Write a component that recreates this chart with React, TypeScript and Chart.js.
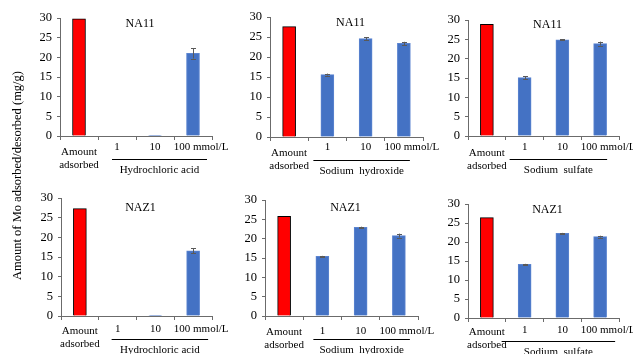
import React, { useEffect, useRef } from "react";
import { Chart, registerables } from "chart.js";

Chart.register(...registerables);

const categories: (string | string[])[] = [["Amount", "adsorbed"], "1", "10", "100 mmol/L"];
const yTicks = [0, 5, 10, 15, 20, 25, 30];
const panelTitles = ["NA11", "NA11", "NA11", "NAZ1", "NAZ1", "NAZ1"];
const groupLabels = [
  "Hydrochloric acid",
  "Sodium  hydroxide",
  "Sodium  sulfate",
  "Hydrochloric acid",
  "Sodium  hydroxide",
  "Sodium  sulfate",
];
const yAxisTitle = "Amount of Mo adsorbed/desorbed (mg/g)";

const na11HclValues = [29.8, 0, 0.15, 21.0];
const na11HclErrors = [0, 0, 0, 1.3];
const na11NaohValues = [27.6, 15.6, 24.6, 23.4];
const na11NaohErrors = [0, 0.25, 0.3, 0.4];
const na11Na2so4Values = [28.9, 15.1, 24.9, 23.9];
const na11Na2so4Errors = [0, 0.4, 0.15, 0.5];
const naz1HclValues = [27.3, 0, 0.15, 16.6];
const naz1HclErrors = [0, 0, 0, 0.6];
const naz1NaohValues = [25.8, 15.4, 22.9, 20.8];
const naz1NaohErrors = [0, 0.15, 0.2, 0.5];
const naz1Na2so4Values = [26.4, 14.1, 22.3, 21.4];
const naz1Na2so4Errors = [0, 0.15, 0.1, 0.25];

const panelValues = [na11HclValues, na11NaohValues, na11Na2so4Values, naz1HclValues, naz1NaohValues, naz1Na2so4Values];
const panelErrors = [na11HclErrors, na11NaohErrors, na11Na2so4Errors, naz1HclErrors, naz1NaohErrors, naz1Na2so4Errors];

// layout (pixel geometry of each panel)
const layouts = [
  { axisX: 60, yTop: 18, y0: 136, xRight: 212, numDy: 11, amtDy: 16, lineL: -5, lineR: 14, titleDy: 6 },
  { axisX: 270, yTop: 17, y0: 137, xRight: 423, numDy: 10, amtDy: 16, lineL: -14, lineR: 6, titleDy: 6 },
  { axisX: 468, yTop: 20, y0: 136, xRight: 619, numDy: 11, amtDy: 17, lineL: -15, lineR: 7, titleDy: 5 },
  { axisX: 61, yTop: 198, y0: 316, xRight: 212, numDy: 13, amtDy: 15, lineL: -6, lineR: 15, titleDy: 10 },
  { axisX: 265, yTop: 200, y0: 316, xRight: 418, numDy: 15, amtDy: 16, lineL: -9, lineR: 11, titleDy: 8 },
  { axisX: 468, yTop: 204, y0: 318, xRight: 619, numDy: 12, amtDy: 14, lineL: -23, lineR: 15, titleDy: 6 },
];

const PAD_LEFT = 45;
const PAD_RIGHT = 24;
const PAD_TOP = 15;
const PAD_BOTTOM = 45;
const FONT = '"Liberation Serif", "Times New Roman", serif';

const overlayPlugin = {
  id: "overlay",
  afterDraw(chart: any) {
    const o = chart.options.plugins.overlay;
    const { ctx, chartArea } = chart;
    const x = chart.scales.x;
    const y = chart.scales.y;
    const y0 = y.getPixelForValue(0);
    ctx.save();
    // error bars
    ctx.strokeStyle = "#595959";
    ctx.lineWidth = 1;
    o.values.forEach((v: number, i: number) => {
      const e = o.errors[i];
      if (!e) return;
      const cx = Math.round(x.getPixelForValue(i)) + 0.5;
      const yt = y.getPixelForValue(v + e);
      const yb = y.getPixelForValue(v - e);
      ctx.beginPath();
      ctx.moveTo(cx, yt);
      ctx.lineTo(cx, yb);
      ctx.moveTo(cx - 2.5, Math.round(yt) + 0.5);
      ctx.lineTo(cx + 2.5, Math.round(yt) + 0.5);
      ctx.moveTo(cx - 2.5, Math.round(yb) + 0.5);
      ctx.lineTo(cx + 2.5, Math.round(yb) + 0.5);
      ctx.stroke();
    });
    // category labels
    ctx.fillStyle = "#000";
    ctx.font = `11px ${FONT}`;
    ctx.textBaseline = "middle";
    ctx.textAlign = "center";
    categories.forEach((c, i) => {
      const cx = x.getPixelForValue(i);
      if (Array.isArray(c)) {
        c.forEach((line, k) => ctx.fillText(line, cx, y0 + o.amtDy + k * 13));
      } else if (i === categories.length - 1) {
        ctx.fillText(c, cx + 8, y0 + o.numDy);
      } else {
        ctx.fillText(c, cx, y0 + o.numDy);
      }
    });
    // group underline + label
    const l = x.getPixelForValue(1) + o.lineL;
    const r = x.getPixelForValue(3) + o.lineR;
    ctx.strokeStyle = "#000";
    ctx.beginPath();
    ctx.moveTo(l, Math.round(y0 + 23) + 0.5);
    ctx.lineTo(r, Math.round(y0 + 23) + 0.5);
    ctx.stroke();
    ctx.fillText(o.group, (l + r) / 2, y0 + 34);
    // title
    ctx.font = `12px ${FONT}`;
    ctx.fillText(o.title, (chartArea.left + chartArea.right) / 2 + 4, chartArea.top + o.titleDy);
    ctx.restore();
  },
};

function Panel({ idx }: { idx: number }) {
  const ref = useRef<HTMLCanvasElement>(null);
  const L = layouts[idx];
  const w = L.xRight - L.axisX + PAD_LEFT + PAD_RIGHT;
  const h = L.y0 - L.yTop + PAD_TOP + PAD_BOTTOM;
  useEffect(() => {
    const values = panelValues[idx];
    const chart = new Chart(ref.current!, {
      type: "bar",
      data: {
        labels: categories.map((c) => (Array.isArray(c) ? c.join(" ") : c)),
        datasets: [
          {
            data: values,
            backgroundColor: values.map((_, i) => (i === 0 ? "#FF0000" : "#4472C4")),
            borderColor: values.map((_, i) => (i === 0 ? "#000000" : "#5B84D0")),
            borderWidth: 1,
            barThickness: 13,
          },
        ],
      },
      options: {
        animation: false,
        responsive: false,
        devicePixelRatio: 1,
        layout: { padding: { left: 0, right: PAD_RIGHT, top: PAD_TOP, bottom: 0 } },
        plugins: {
          legend: { display: false },
          tooltip: { enabled: false },
          overlay: {
            values,
            errors: panelErrors[idx],
            title: panelTitles[idx],
            group: groupLabels[idx],
            numDy: L.numDy,
            amtDy: L.amtDy,
            lineL: L.lineL,
            lineR: L.lineR,
            titleDy: L.titleDy,
          },
        } as any,
        scales: {
          x: {
            type: "category",
            offset: true,
            grid: { drawOnChartArea: false, drawTicks: true, tickLength: 4, color: "#6b6b6b", offset: true },
            border: { display: true, color: "#6b6b6b" },
            ticks: { display: false },
            afterFit: (s: any) => {
              s.height = PAD_BOTTOM;
            },
          },
          y: {
            min: 0,
            max: 30,
            afterBuildTicks: (s: any) => {
              s.ticks = yTicks.map((v) => ({ value: v }));
            },
            grid: { drawOnChartArea: false, drawTicks: true, tickLength: 3, color: "#6b6b6b" },
            border: { display: true, color: "#6b6b6b" },
            ticks: { color: "#000", font: { family: FONT, size: 12.5 }, padding: 5 },
            afterFit: (s: any) => {
              s.width = PAD_LEFT;
            },
          },
        },
      },
      plugins: [overlayPlugin],
    });
    return () => chart.destroy();
  }, [idx]);
  return (
    <div
      style={{
        position: "absolute",
        left: L.axisX - PAD_LEFT,
        top: L.yTop - PAD_TOP,
        width: w,
        height: h,
      }}
    >
      <canvas ref={ref} width={w} height={h} style={{ display: "block", width: w, height: h }} />
    </div>
  );
}

export default function App() {
  return (
    <div
      style={{
        position: "absolute",
        left: 0,
        top: 0,
        width: 633,
        height: 354,
        background: "#fff",
        overflow: "hidden",
      }}
    >
      {layouts.map((_, i) => (
        <Panel key={i} idx={i} />
      ))}
      <div
        style={{
          position: "absolute",
          left: 10,
          top: 0,
          width: 14,
          height: 350,
          display: "flex",
          alignItems: "center",
          justifyContent: "center",
        }}
      >
        <span
          style={{
            writingMode: "vertical-rl",
            transform: "rotate(180deg)",
            whiteSpace: "nowrap",
            fontFamily: FONT,
            fontSize: 12.5,
            lineHeight: "14px",
            color: "#000",
          }}
        >
          {yAxisTitle}
        </span>
      </div>
    </div>
  );
}
